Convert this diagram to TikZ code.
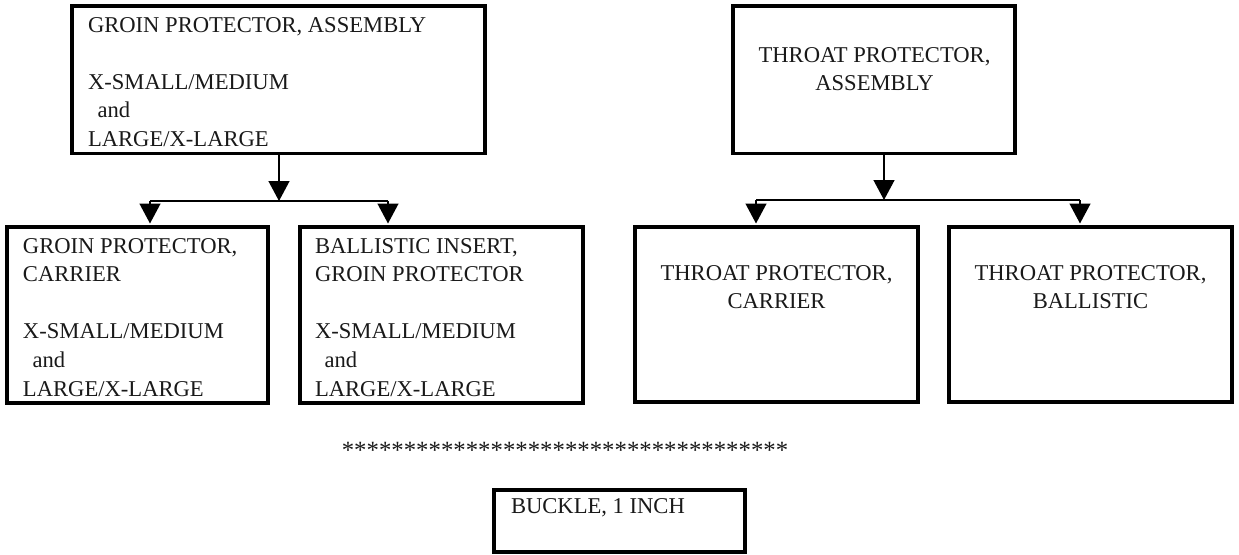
\documentclass[tikz,border=0pt]{standalone}
\usepackage{fontspec}
\setmainfont{Liberation Serif}
\usetikzlibrary{arrows.meta}
\begin{document}
\begin{tikzpicture}[x=1pt,y=-1pt,
  boxframe/.style={draw=black, line width=3.5pt, inner sep=0pt, outer sep=0pt, anchor=north west},
  caption/.style={inner sep=0pt, outer sep=0pt, text=black!90, font=\fontsize{22.6}{28.6}\selectfont},
  link/.style={line width=1.4pt},
  drop/.style={line width=1.4pt, -{Triangle[width=21pt,length=20pt]}, shorten >=3.5pt}]
\useasboundingbox (0,0) rectangle (1239,554);

% frames
\node[boxframe, minimum width=413pt, minimum height=147.5pt] (ga)  at (72,6)   {};
\node[boxframe, minimum width=282pt, minimum height=147.5pt] (tpa) at (733,6)  {};
\node[boxframe, minimum width=261pt, minimum height=176pt]   (gc)  at (7,227)  {};
\node[boxframe, minimum width=283pt, minimum height=176pt]   (gi)  at (300,227) {};
\node[boxframe, minimum width=283pt, minimum height=175pt]   (tc)  at (635,227) {};
\node[boxframe, minimum width=283pt, minimum height=175pt]   (tb)  at (949,227) {};
\node[boxframe, minimum width=251pt, minimum height=62pt]    (bk)  at (494,490) {};

% texts
\node[caption, anchor=base west] (ga-t) at (88,32) {\parbox[t]{390pt}{\raggedright
  GROIN PROTECTOR, ASSEMBLY\\[28.6pt]
  X-SMALL/MEDIUM\\
  \hspace*{9.5pt}and\\
  LARGE/X-LARGE}};
\node[caption, anchor=base] (tpa-t) at (874.5,62) {\parbox[t]{270pt}{\centering
  THROAT PROTECTOR,\\ASSEMBLY}};
\node[caption, anchor=base west] (gc-t) at (23,253) {\parbox[t]{240pt}{\raggedright
  GROIN PROTECTOR,\\
  CARRIER\\[28.6pt]
  X-SMALL/MEDIUM\\
  \hspace*{9.5pt}and\\
  LARGE/X-LARGE}};
\node[caption, anchor=base west] (gi-t) at (315,253) {\parbox[t]{260pt}{\raggedright
  BALLISTIC INSERT,\\
  GROIN PROTECTOR\\[28.6pt]
  X-SMALL/MEDIUM\\
  \hspace*{9.5pt}and\\
  LARGE/X-LARGE}};
\node[caption, anchor=base] (tc-t) at (776.5,280) {\parbox[t]{270pt}{\centering
  THROAT PROTECTOR,\\CARRIER}};
\node[caption, anchor=base] (tb-t) at (1090.5,280) {\parbox[t]{270pt}{\centering
  THROAT PROTECTOR,\\BALLISTIC}};
\node[caption, anchor=base west] (bk-t) at (511,513) {BUCKLE, 1 INCH};

% separator row
\node[caption, anchor=base, font=\fontsize{24.8}{30}\selectfont] (stars) at (565,458)
  {************************************};

% groin protector tree
\coordinate (gj) at (279,201);
\coordinate (gl) at (150,201);
\coordinate (gr) at (388,201);
\draw[link] (gl) -- (gr);
\draw[line width=1.4pt, -{Triangle[width=21pt,length=20pt]}] (ga.south -| gj) -- (gj);
\draw[drop] (gl) -- (gl |- gc.north);
\draw[drop] (gr) -- (gr |- gi.north);

% throat protector tree
\coordinate (tj) at (884,200);
\coordinate (tl) at (756,200);
\coordinate (tr) at (1080,200);
\draw[link] (tl) -- (tr);
\draw[line width=1.4pt, -{Triangle[width=21pt,length=20pt]}] (tpa.south -| tj) -- (tj);
\draw[drop] (tl) -- (tl |- tc.north);
\draw[drop] (tr) -- (tr |- tb.north);
\end{tikzpicture}
\end{document}
